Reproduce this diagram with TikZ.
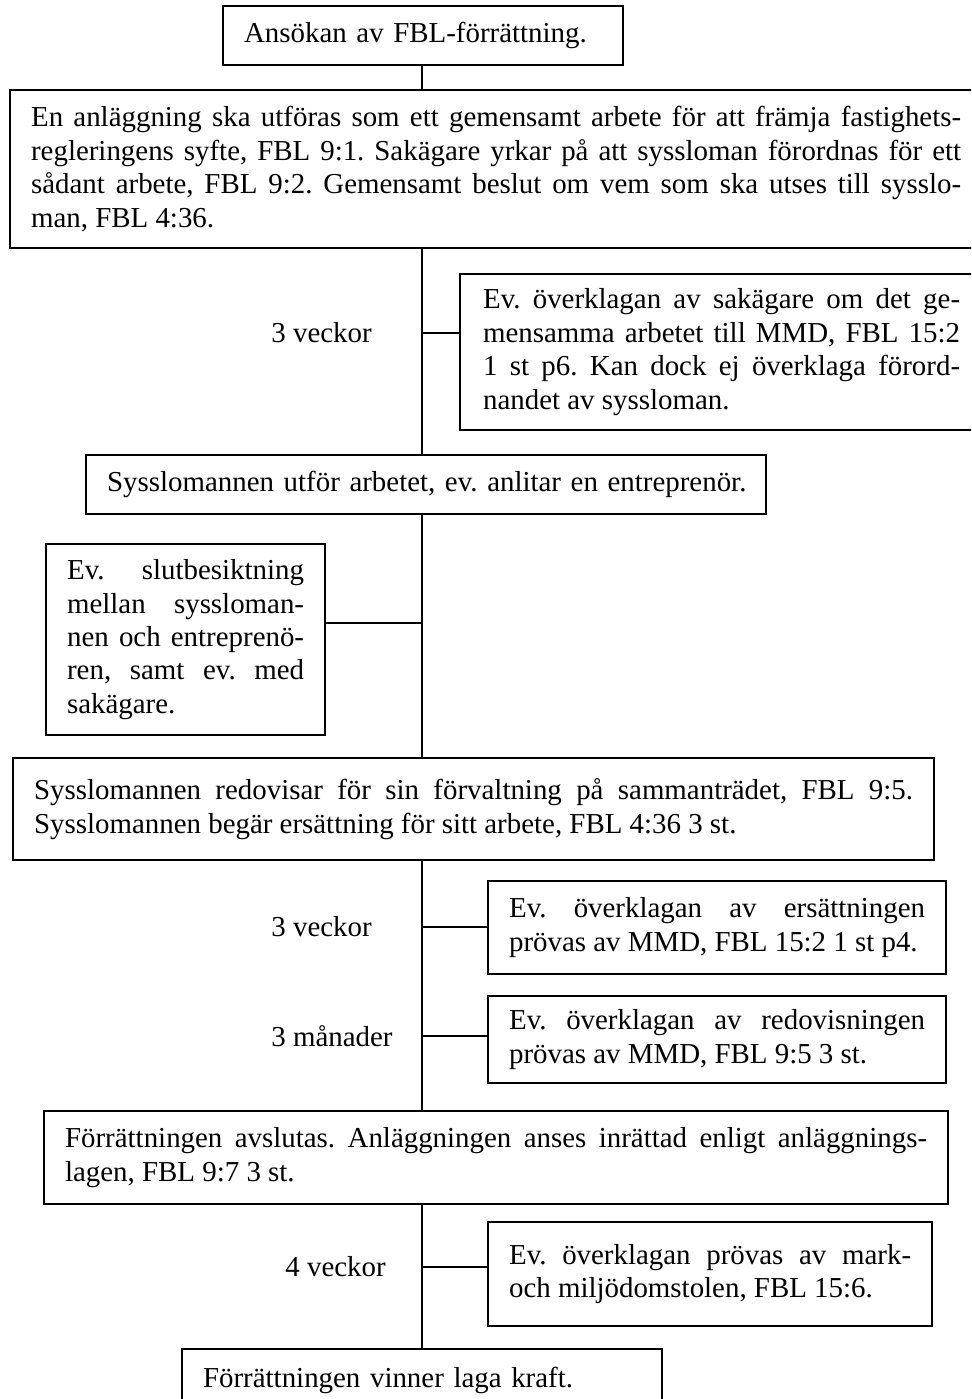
\documentclass[tikz,border=0pt]{standalone}
\usepackage{fontspec}
\setmainfont{Liberation Serif}
\frenchspacing
\begin{document}
\begin{tikzpicture}[x=0.5pt,y=-0.5pt,
  txt/.style={font=\fontsize{14.45pt}{16.7pt}\selectfont\frenchspacing},
  box/.style={txt, draw, line width=1.1pt, rectangle, anchor=north west,
    inner xsep=10.5pt, inner ysep=0pt, align=justify},
  lbl/.style={txt, anchor=west, inner sep=0pt},
  conn/.style={line width=0.9pt}]
\useasboundingbox (0,0) rectangle (971,1399);
\clip (0,0) rectangle (971,1399);

\node[box, align=left, minimum width=200pt, minimum height=29.5pt, text width=179pt] (b1) at (222,5)
  {\mbox{Ansökan av FBL-förrättning.}};
\node[box, minimum width=486pt, minimum height=79pt, text width=465pt] (b2) at (9,89)
  {En anläggning ska utföras som ett gemensamt arbete för att främja fastighets-\linebreak
   regleringens syfte, FBL 9:1. Sakägare yrkar på att syssloman förordnas för ett\linebreak
   sådant arbete, FBL 9:2. Gemensamt beslut om vem som ska utses till sysslo-\linebreak
   man, FBL 4:36.};
\node[box, inner xsep=11.5pt, minimum width=261.5pt, minimum height=78pt, text width=238.5pt] (b3) at (459,273)
  {Ev. överklagan av sakägare om det ge-\linebreak
   mensamma arbetet till MMD, FBL 15:2\linebreak
   1 st p6. Kan dock ej överklaga förord-\linebreak
   nandet av syssloman.};
\node[box, align=left, minimum width=340pt, minimum height=29.5pt, text width=319pt] (b4) at (85,454)
  {\mbox{Sysslomannen utför arbetet, ev. anlitar en entreprenör.}};
\node[box, minimum width=139.5pt, minimum height=95.5pt, text width=118.5pt] (b5) at (45,543)
  {Ev. slutbesiktning\linebreak
   mellan syssloman-\linebreak
   nen och entreprenö-\linebreak
   ren, samt ev. med\linebreak
   sakägare.};
\node[box, minimum width=460.5pt, minimum height=51pt, text width=439.5pt] (b6) at (12,757)
  {Sysslomannen redovisar för sin förvaltning på sammanträdet, FBL 9:5.\linebreak
   Sysslomannen begär ersättning för sitt arbete, FBL 4:36 3 st.};
\node[box, minimum width=229pt, minimum height=46.5pt, text width=208pt] (b7) at (487,880)
  {Ev. överklagan av ersättningen\linebreak
   prövas av MMD, FBL 15:2 1 st p4.};
\node[box, minimum width=229pt, minimum height=43.5pt, text width=208pt] (b8) at (487,995)
  {Ev. överklagan av redovisningen\linebreak
   prövas av MMD, FBL 9:5 3 st.};
\node[box, minimum width=452pt, minimum height=46.5pt, text width=431pt] (b9) at (43,1110)
  {Förrättningen avslutas. Anläggningen anses inrättad enligt anläggnings-\linebreak
   lagen, FBL 9:7 3 st.};
\node[box, minimum width=222pt, minimum height=52pt, text width=201pt] (b10) at (487,1221)
  {Ev. överklagan prövas av mark-\linebreak
   och miljödomstolen, FBL 15:6.};
\node[box, align=left, minimum width=240pt, minimum height=31pt, text width=219pt] (b11) at (181,1348)
  {\mbox{Förrättningen vinner laga kraft.}};

\node[lbl] (l1) at (271,333) {3 veckor};
\node[lbl] (l2) at (271,927) {3 veckor};
\node[lbl] (l3) at (271,1036) {3 månader};
\node[lbl] (l4) at (285,1267) {4 veckor};

\coordinate (sp) at (422,0);
\draw[conn] (b1.south -| sp) -- (b2.north -| sp);
\draw[conn] (b2.south -| sp) -- (b4.north -| sp);
\draw[conn] (b4.south -| sp) -- (b6.north -| sp);
\draw[conn] (b6.south -| sp) -- (b9.north -| sp);
\draw[conn] (b9.south -| sp) -- (b11.north -| sp);

\coordinate (j1) at (422,333);
\coordinate (j2) at (422,623);
\coordinate (j3) at (422,927);
\coordinate (j4) at (422,1036);
\coordinate (j5) at (422,1267);
\draw[conn] (j1) -- (j1 -| b3.west);
\draw[conn] (b5.east |- j2) -- (j2);
\draw[conn] (j3) -- (j3 -| b7.west);
\draw[conn] (j4) -- (j4 -| b8.west);
\draw[conn] (j5) -- (j5 -| b10.west);
\end{tikzpicture}
\end{document}
